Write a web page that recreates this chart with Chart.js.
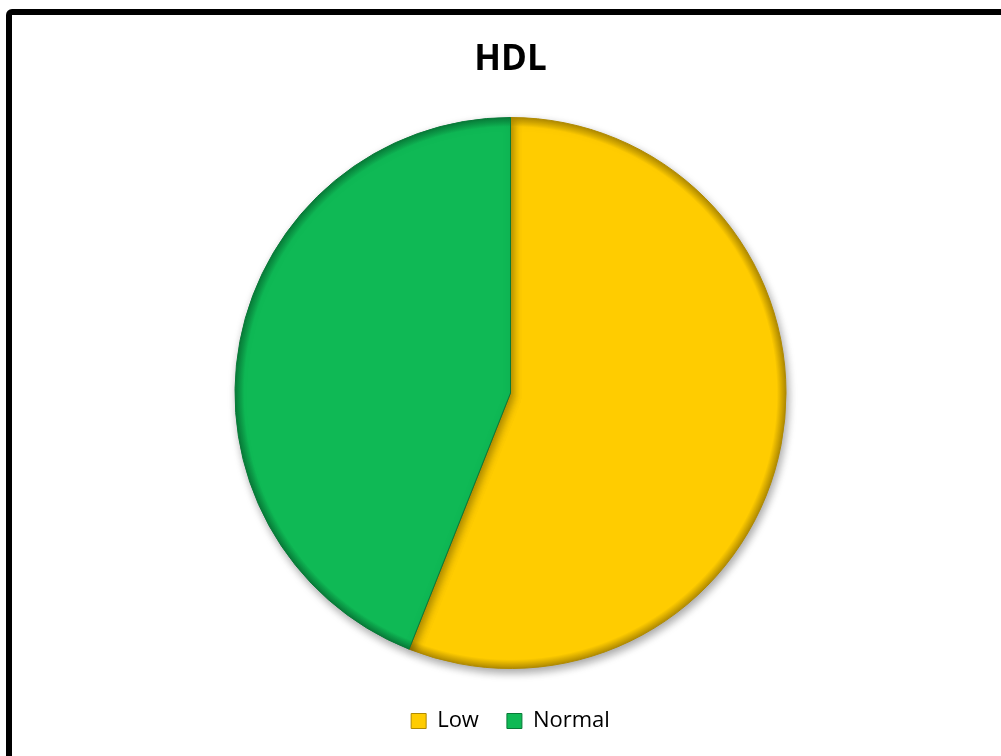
<!DOCTYPE html>
<html>
<head>
<meta charset="utf-8">
<title>HDL</title>
<script src="https://cdn.jsdelivr.net/npm/chart.js@4/dist/chart.umd.min.js"></script>
<style>
  html, body { margin: 0; padding: 0; background: #fff; overflow: hidden; }
  #wrap { position: relative; width: 1001px; height: 756px; }
  #frame {
    position: absolute; left: 6px; top: 9px; width: 1200px; height: 1000px;
    border: 6px solid #000; border-radius: 6px; box-sizing: border-box;
    pointer-events: none;
  }
  canvas { position: absolute; left: 0; top: 0; }
</style>
</head>
<body>
<div id="wrap">
  <canvas id="chart" width="1001" height="756"></canvas>
  <div id="frame"></div>
</div>
<script>
const categories = ["Low", "Normal"];
const shares = [56, 44];
const fills = ["#ffcc00", "#0fb955"];
const edges = ["#b08a00", "#087a38"];

// radial shading so the rim of each slice darkens a little
function sliceFill(ctx) {
  const chart = ctx.chart;
  const area = chart.chartArea;
  const base = fills[ctx.dataIndex];
  if (!area) return base;
  const cx = (area.left + area.right) / 2;
  const cy = (area.top + area.bottom) / 2;
  const r = Math.min(area.width, area.height) / 2;
  const g = chart.ctx.createRadialGradient(cx, cy, 0, cx, cy, r);
  g.addColorStop(0, base);
  g.addColorStop(0.965, base);
  g.addColorStop(1, edges[ctx.dataIndex]);
  return g;
}

// soft drop shadow under the pie
const pieShadow = {
  id: "pieShadow",
  beforeDatasetDraw(chart) {
    const c = chart.ctx;
    c.save();
    c.shadowColor = "rgba(0,0,0,0.35)";
    c.shadowBlur = 8;
    c.shadowOffsetX = 2;
    c.shadowOffsetY = 4;
  },
  afterDatasetDraw(chart) {
    chart.ctx.restore();
  }
};

new Chart(document.getElementById("chart"), {
  type: "pie",
  data: {
    labels: categories,
    datasets: [{
      data: shares,
      backgroundColor: sliceFill,
      borderColor: edges,
      borderWidth: 1
    }]
  },
  options: {
    responsive: false,
    animation: false,
    layout: { padding: { left: 20, right: 0, top: 0, bottom: 14 } },
    plugins: {
      title: {
        display: true,
        text: "HDL",
        color: "#000",
        font: { family: "'Open Sans', sans-serif", size: 35, weight: "bold" },
        padding: { top: 39, bottom: 36 }
      },
      // empty subtitle used as a gap between the pie and the legend
      subtitle: {
        display: true,
        text: "",
        position: "bottom",
        weight: 500,
        font: { size: 1, lineHeight: 1 },
        padding: { top: 6, bottom: 6 }
      },
      legend: {
        position: "bottom",
        labels: {
          color: "#000",
          font: { family: "'Open Sans', sans-serif", size: 22 },
          boxWidth: 15,
          boxHeight: 15,
          padding: 28,
          generateLabels(chart) {
            return categories.map((name, i) => ({
              text: name,
              fillStyle: fills[i],
              strokeStyle: edges[i],
              lineWidth: 1,
              index: i
            }));
          }
        }
      },
      tooltip: { enabled: false }
    }
  },
  plugins: [pieShadow]
});
</script>
</body>
</html>
